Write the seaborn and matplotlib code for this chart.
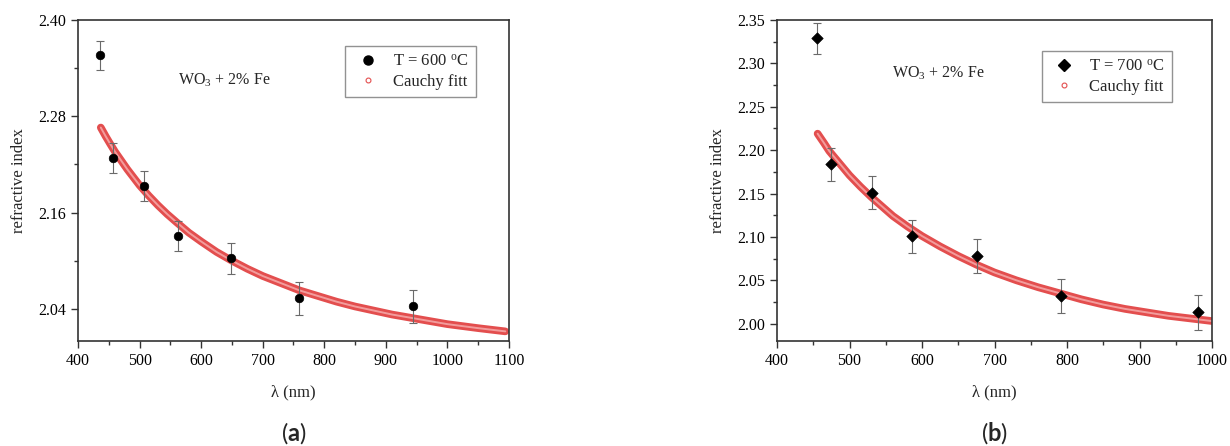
import numpy as np
import pandas as pd
import matplotlib
matplotlib.use("Agg")
import matplotlib.pyplot as plt
import seaborn as sns
from matplotlib.ticker import MultipleLocator, FormatStrFormatter
from matplotlib.lines import Line2D

sns.set_theme(style="white")
plt.rcParams['font.family'] = ['Liberation Serif', 'DejaVu Serif']
plt.rcParams['mathtext.fontset'] = 'custom'
plt.rcParams['mathtext.rm'] = 'Liberation Serif'
plt.rcParams['mathtext.it'] = 'Liberation Serif:italic'
plt.rcParams['mathtext.bf'] = 'Lato:bold'

# ---- panel (a): T = 600 C ----
wl_a = [436, 457, 507, 563, 648, 759, 944]
n_a = [2.356, 2.228, 2.193, 2.131, 2.103, 2.053, 2.043]
err_a = [0.018, 0.019, 0.019, 0.019, 0.019, 0.020, 0.020]
fit_wl_a = [437, 445, 452, 460, 470, 480, 490, 500, 515, 530, 545, 560, 580, 600, 625,
            650, 675, 700, 730, 760, 790, 820, 850, 880, 910, 940, 970, 1000, 1050, 1094]
fit_n_a = [2.266, 2.255, 2.246, 2.236, 2.225, 2.214, 2.204, 2.194, 2.181, 2.169, 2.158,
           2.148, 2.135, 2.124, 2.111, 2.100, 2.090, 2.081, 2.072, 2.063, 2.056, 2.049,
           2.043, 2.038, 2.033, 2.029, 2.025, 2.021, 2.016, 2.012]

# ---- panel (b): T = 700 C ----
wl_b = [455, 475, 531, 586, 676, 792, 981]
n_b = [2.329, 2.184, 2.151, 2.101, 2.078, 2.032, 2.013]
err_b = [0.018, 0.019, 0.019, 0.019, 0.020, 0.020, 0.020]
fit_wl_b = [456, 465, 472, 480, 490, 500, 515, 530, 545, 560, 580, 600, 625, 650, 675,
            700, 730, 760, 790, 820, 850, 880, 910, 940, 970, 1000]
fit_n_b = [2.219, 2.208, 2.199, 2.191, 2.181, 2.171, 2.158, 2.146, 2.135, 2.124, 2.112,
           2.101, 2.089, 2.078, 2.068, 2.059, 2.050, 2.042, 2.035, 2.028, 2.022, 2.017,
           2.013, 2.009, 2.006, 2.003]

fig = plt.figure(figsize=(12.3, 4.46), dpi=100)
ax_a = fig.add_axes([78/1230, 1-341/446, 431/1230, 321/446])
ax_b = fig.add_axes([777/1230, 1-341/446, 435/1230, 321/446])

red_dark = '#e34e4e'
red_light = '#f7b0b0'


def draw(ax, wl, n, err, fwl, fn, marker, msize, lmsize, label, xlim, ylim, yticks,
         yminor, letter, leg_anchor):
    dfp = pd.DataFrame({'wl': wl, 'n': n})
    dff = pd.DataFrame({'wl': fwl, 'n': fn})
    sns.lineplot(data=dff, x='wl', y='n', ax=ax, color=red_dark, linewidth=5.5,
                 solid_capstyle='round', solid_joinstyle='round', zorder=2)
    sns.lineplot(data=dff, x='wl', y='n', ax=ax, color=red_light, linewidth=1.4,
                 alpha=0.8, zorder=2.1)
    ax.errorbar(wl, n, yerr=err, fmt='none', ecolor='#6a6a6a', elinewidth=0.8,
                capsize=3, capthick=0.8, zorder=3)
    sns.scatterplot(data=dfp, x='wl', y='n', ax=ax, marker=marker, s=msize,
                    color='black', edgecolor='black', zorder=4)
    ax.set_xlim(*xlim)
    ax.set_ylim(*ylim)
    ax.xaxis.set_major_locator(MultipleLocator(100))
    ax.xaxis.set_minor_locator(MultipleLocator(50))
    ax.set_yticks(yticks)
    ax.yaxis.set_minor_locator(MultipleLocator(yminor))
    ax.yaxis.set_major_formatter(FormatStrFormatter('%.2f'))
    ax.tick_params(axis='both', which='major', direction='out', length=5, width=1,
                   colors='#333333', labelsize=11.5, labelcolor='black',
                   bottom=True, left=True, top=False, right=False)
    ax.tick_params(axis='both', which='minor', direction='out', length=3, width=1,
                   colors='#333333', bottom=True, left=True, top=False, right=False)
    for sp in ax.spines.values():
        sp.set_color('#333333')
        sp.set_linewidth(1.2)
    ax.set_xlabel('λ (nm)', fontsize=12, labelpad=11)
    ax.set_ylabel('refractive index', fontsize=12, labelpad=8)
    handles = [
        Line2D([], [], linestyle='none', marker=marker, color='black',
               markersize=lmsize),
        Line2D([], [], linestyle='none', marker='o', markerfacecolor='none',
               markeredgecolor=red_dark, markersize=3.5, markeredgewidth=0.8),
    ]
    leg = ax.legend(handles, [label, 'Cauchy fitt'], loc='upper right',
                    bbox_to_anchor=leg_anchor, borderaxespad=0, fontsize=12,
                    frameon=True, fancybox=False, edgecolor='#777777',
                    handletextpad=0.6, borderpad=0.45, labelspacing=0.25,
                    handlelength=1.8)
    leg.get_frame().set_linewidth(1.0)
    ax.text(0.5, -0.287, '(' + r'$\mathbf{' + letter + '}$' + ')',
            transform=ax.transAxes, ha='center', va='center', fontsize=17,
            family=['Lato', 'DejaVu Sans'])


draw(ax_a, wl_a, n_a, err_a, fit_wl_a, fit_n_a, 'o', 38, 6.5,
     r'T = 600 $^{\mathrm{o}}$C', (400, 1100), (2.00, 2.40),
     [2.04, 2.16, 2.28, 2.40], 0.06, 'a', (0.923, 0.919))
ax_a.text(0.232, 0.813, r'WO$_3$ + 2% Fe', transform=ax_a.transAxes, fontsize=11.5,
          ha='left', va='center')

draw(ax_b, wl_b, n_b, err_b, fit_wl_b, fit_n_b, 'D', 34, 6.5,
     r'T = 700 $^{\mathrm{o}}$C', (400, 1000), (1.98, 2.35),
     [2.00, 2.05, 2.10, 2.15, 2.20, 2.25, 2.30, 2.35], 0.025, 'b', (0.908, 0.903))
ax_b.text(0.265, 0.833, r'WO$_3$ + 2% Fe', transform=ax_b.transAxes, fontsize=11.5,
          ha='left', va='center')

fig.savefig('out.png', dpi=100, facecolor='white')
